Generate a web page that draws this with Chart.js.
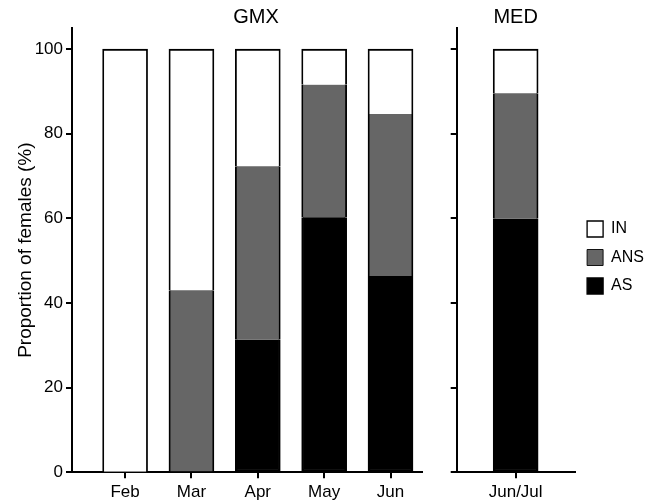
<!DOCTYPE html>
<html><head><meta charset="utf-8">
<script src="https://cdn.jsdelivr.net/npm/chart.js@4/dist/chart.umd.min.js"></script>
<style>
html,body{margin:0;padding:0;background:#fff;overflow:hidden;width:657px;height:501px;}
canvas{position:absolute;top:0;}
#c1{left:0;} #c2{left:300px;}
</style></head><body>
<canvas id="c1" width="512" height="515"></canvas>
<canvas id="c2" width="354" height="515"></canvas>
<script>
const categoriesGMX = ['Feb', 'Mar', 'Apr', 'May', 'Jun'];
const categoriesMED = ['Jun/Jul'];
const seriesNames = ['AS', 'ANS', 'IN'];
const asGMX  = [0, 0, 31.3, 60.3, 46.4];
const ansGMX = [0, 43.0, 41.0, 31.3, 38.3];
const inGMX  = [100, 57.0, 27.7, 8.4, 15.3];
const asMED  = [59.9];
const ansMED = [29.7];
const inMED  = [10.4];
const yTicks = [0, 20, 40, 60, 80, 100];

Chart.defaults.font.family = "'Liberation Sans', Arial, sans-serif";
Chart.defaults.color = '#000';

const BW = 1.8;
const fills = ['#000000', '#666666', '#ffffff'];
const borders = [
  {top: 0, left: BW, right: BW, bottom: BW},
  {top: 0, left: BW, right: BW, bottom: 0},
  {top: BW, left: BW, right: BW, bottom: 0}
];
function mk(series, linear) {
  return series.map((vals, k) => ({
    label: seriesNames[k],
    data: linear ? vals.map((v, i) => ({x: i, y: v})) : vals,
    backgroundColor: fills[k],
    borderColor: '#000',
    borderWidth: borders[k],
    borderSkipped: false,
    barThickness: 45
  }));
}
const axisGrid = {display: true, drawOnChartArea: false, drawTicks: true, tickLength: 6, color: '#000', lineWidth: 2, offset: false};
const axisBorder = {display: true, color: '#000', width: 2};

new Chart(document.getElementById('c1'), {
  type: 'bar',
  data: {datasets: mk([asGMX, ansGMX, inGMX], true)},
  options: {
    responsive: false, animation: false,
    layout: {padding: 0},
    plugins: {
      legend: {display: false}, tooltip: {enabled: false},
      title: {display: true, text: 'GMX', color: '#000', font: {size: 20, weight: 'normal', lineHeight: 1}, padding: {top: 7, bottom: 1}}
    },
    scales: {
      x: {
        type: 'linear', stacked: true, min: -0.8, max: 4.47, offset: false,
        afterBuildTicks: s => { s.ticks = categoriesGMX.map((c, i) => ({value: i})); },
        ticks: {callback: v => categoriesGMX[v] ?? '', font: {size: 17}, padding: 4, autoSkip: false, maxRotation: 0},
        grid: axisGrid, border: axisBorder,
        afterFit: s => { s.height = 42.7; }
      },
      y: {
        stacked: true, min: 0, max: 105,
        afterBuildTicks: s => { s.ticks = yTicks.map(v => ({value: v})); },
        ticks: {font: {size: 17}, padding: 3},
        grid: axisGrid, border: axisBorder,
        title: {display: true, text: 'Proportion of females (%)', color: '#000', font: {size: 19}, padding: {top: 14, bottom: 0}},
        afterFit: s => { s.width = 72; }
      },
      spacer: {
        axis: 'y', position: 'right', display: true,
        grid: {display: false}, border: {display: false}, ticks: {display: false},
        afterFit: s => { s.width = 90.3; }
      }
    }
  }
});

new Chart(document.getElementById('c2'), {
  type: 'bar',
  data: {labels: categoriesMED, datasets: mk([asMED, ansMED, inMED], false)},
  options: {
    responsive: false, animation: false,
    layout: {padding: 0},
    plugins: {
      tooltip: {enabled: false},
      legend: {display: true, position: 'right', reverse: true,
        labels: {boxWidth: 16, boxHeight: 16, padding: 12.5, color: '#000', font: {size: 16}}},
      title: {display: true, fullSize: false, text: 'MED', color: '#000', font: {size: 20, weight: 'normal', lineHeight: 1}, padding: {top: 7, bottom: 1}}
    },
    scales: {
      x: {
        stacked: true,
        ticks: {font: {size: 17}, padding: 4, maxRotation: 0},
        grid: axisGrid, border: axisBorder,
        afterFit: s => { s.height = 42.7; }
      },
      y: {
        stacked: true, min: 0, max: 105,
        afterBuildTicks: s => { s.ticks = yTicks.map(v => ({value: v})); },
        ticks: {display: false},
        grid: axisGrid, border: axisBorder,
        afterFit: s => { s.width = 156.7; }
      }
    }
  }
});
</script>
</body></html>
